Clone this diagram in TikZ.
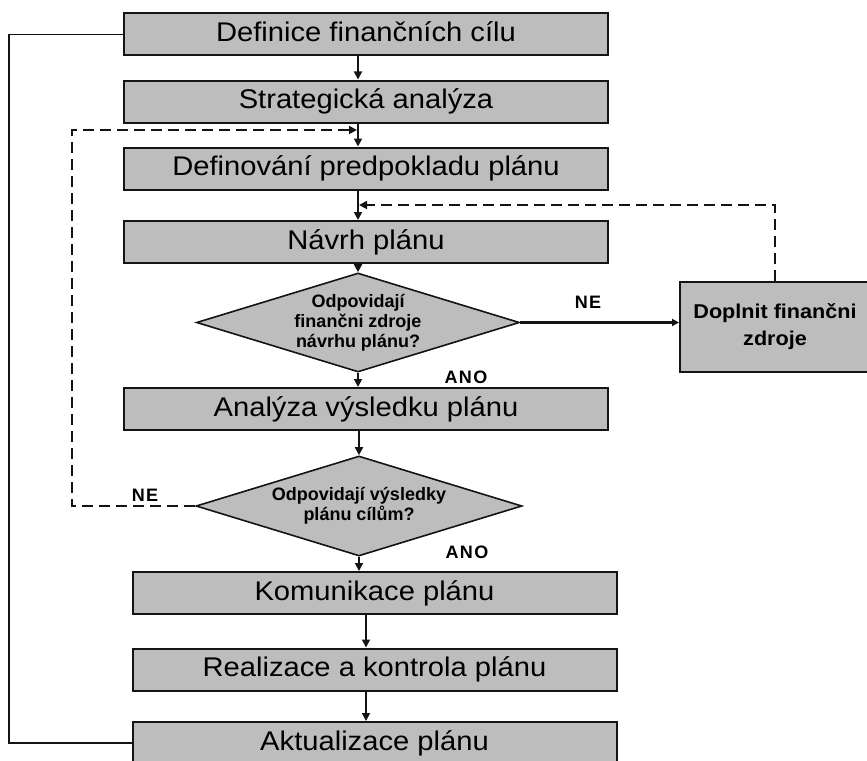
\documentclass[tikz,border=0pt]{standalone}
\usepackage{fontspec}
\setmainfont{Liberation Sans}
\newfontfamily\boxfont[FakeStretch=1.08]{Liberation Sans}
\newfontfamily\labelfont[LetterSpace=8]{Liberation Sans}
\usetikzlibrary{arrows.meta,shapes.geometric,positioning}
\definecolor{boxgray}{HTML}{BDBDBD}
\definecolor{ink}{HTML}{141414}
\tikzset{
  stepbox/.style={draw=ink,fill=boxgray,line width=2pt,minimum width=484pt,
                  minimum height=42pt,inner sep=0pt,text height=20pt,text depth=6pt,
                  font=\boxfont\fontsize{27}{30}\selectfont},
  decision/.style={diamond,draw=ink,fill=boxgray,line width=1.6pt,aspect=3.26,
                   inner sep=0pt,align=center,
                   font=\bfseries\fontsize{18}{20}\selectfont},
  sidebox/.style={draw=ink,fill=boxgray,line width=2pt,minimum width=190pt,
                  minimum height=90pt,align=center,
                  font=\boxfont\bfseries\fontsize{20}{27}\selectfont},
  answer/.style={font=\labelfont\bfseries\fontsize{18}{20}\selectfont},
  flowarr/.style={-{Triangle[length=8pt,width=8pt]},line width=1.8pt,draw=ink},
  looparr/.style={flowarr,dash pattern=on 11pt off 6pt},
  backline/.style={line width=1.8pt,draw=ink}
}

\begin{document}
\begin{tikzpicture}[x=1pt,y=-1pt]
    \useasboundingbox (0,0) rectangle (867,760);
    \coordinate (col) at (358,0);
    \coordinate (col2) at (366,0);
    \node[stepbox] (cile) at (366,34.5) {Definice finančních cílu};
    \node[stepbox] (strat) at (366,101.5) {Strategická analýza};
    \node[stepbox] (predp) at (366,168.5) {Definování predpokladu plánu};
    \node[stepbox] (navrh) at (366,242) {Návrh plánu};
    \node[decision,minimum width=323pt,minimum height=99pt] (zdroje) at (358,322.5)
      {Odpovidají\\finančni zdroje\\návrhu plánu?};
    \node[stepbox] (anal) at (366,409) {Analýza výsledku plánu};
    \node[decision,minimum width=326pt,minimum height=100pt] (vysled) at (359,506)
      {Odpovidají výsledky\\plánu cílům?};
    \node[stepbox] (komun) at (374.5,593) {Komunikace plánu};
    \node[stepbox] (realiz) at (374.5,669.5) {Realizace a kontrola plánu};
    \node[stepbox] (aktual) at (374.5,743) {Aktualizace plánu};
    \node[sidebox] (doplnit) at (775,327) {Doplnit finančni\\zdroje};
    \node[answer] (ne1) at (588,302) {NE};
    \node[answer] (ano1) at (466,377) {ANO};
    \node[answer] (ne2) at (145,495) {NE};
    \node[answer] (ano2) at (467,552) {ANO};
    \coordinate (vstup1) at (357,130);
    \coordinate (vstup2) at (359,205);

    \draw[flowarr] (cile.south -| col) -- (strat.north -| col);
    \draw[flowarr] (strat.south -| col) -- (predp.north -| col);
    \draw[flowarr] (predp.south -| col) -- (navrh.north -| col);
    \draw[flowarr] (navrh.south -| zdroje.north) -- (zdroje.north);
    \draw[flowarr] (zdroje.south) -- (anal.north -| zdroje.south);
    \draw[flowarr] (anal.south -| vysled.north) -- (vysled.north);
    \draw[flowarr] (vysled.south) -- (komun.north -| vysled.south);
    \draw[flowarr] (komun.south -| col2) -- (realiz.north -| col2);
    \draw[flowarr] (realiz.south -| col2) -- (aktual.north -| col2);
    \draw[flowarr,line width=3pt,-{Triangle[length=7pt,width=7pt]}]
      (zdroje.east) -- (zdroje.east -| doplnit.west);
    \draw[looparr] (vysled.west) -| (72,130) -- (vstup1);
    \draw[looparr] (doplnit.north) |- (vstup2);
    \draw[backline] (cile.west) -- ++(-114,0) |- (aktual.west);
  \end{tikzpicture}
\end{document}
